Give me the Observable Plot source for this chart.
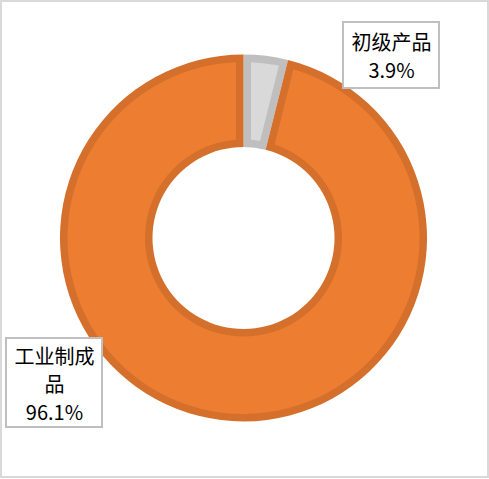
<!DOCTYPE html>
<html><head><meta charset="utf-8">
<script src="https://cdn.jsdelivr.net/npm/d3@7"></script>
<script src="https://cdn.jsdelivr.net/npm/@observablehq/plot@0.6"></script>
<style>body{margin:0;background:#fff;}</style>
</head><body><div id="chart"></div>
<script>
// Data
const categories = ["初级产品", "工业制成品"];
const shares = [3.9, 96.1];
const labelTexts = ["初级产品\n3.9%", "工业制成\n品\n96.1%"];
const fills = ["#d9d9d9", "#ed7d31"];
const borders = ["#bfbfbf", "#d4702b"];

// Layout
const W = 489, H = 479;
const cx = 243.5, cy = 238, rOut = 183.5, rIn = 91, bw = 7.5;
const boxes = [
  {x1: 343, x2: 439, y1: 22, y2: 88},
  {x1: 6, x2: 102, y1: 338, y2: 427}
];
const labelData = labelTexts.map((t, i) => ({
  text: t,
  x: (boxes[i].x1 + boxes[i].x2) / 2,
  y: (boxes[i].y1 + boxes[i].y2) / 2,
  ...boxes[i]
}));

const pieData = d3.pie().sort(null).value(d => d.v)(categories.map((c, i) => ({c, v: shares[i], i})));

function donut(index, scales, values, dims) {
  const g = d3.create("svg:g").attr("transform", `translate(${scales.x(cx)},${scales.y(cy)})`);
  const outer = d3.arc().innerRadius(rIn).outerRadius(rOut);
  const pr = 100;
  const inner = d3.arc().innerRadius(rIn + bw).outerRadius(rOut - bw).padRadius(pr).padAngle(2 * bw / pr);
  for (const a of pieData) {
    g.append("path").attr("d", outer(a)).attr("fill", borders[a.data.i]);
    g.append("path").attr("d", inner(a)).attr("fill", fills[a.data.i]);
  }
  return g.node();
}

const chart = Plot.plot({
  width: W, height: H,
  margin: 0,
  x: {type: "identity", axis: null},
  y: {type: "identity", axis: null},
  style: {fontFamily: "'Noto Sans CJK SC', sans-serif", background: "#fff"},
  marks: [
    Plot.rect([{x1: 1, x2: W - 1, y1: 1, y2: H - 2}], {x1: "x1", x2: "x2", y1: "y1", y2: "y2", fill: "none", stroke: "#d9d9d9", strokeWidth: 2}),
    donut,
    Plot.rect(labelData, {x1: "x1", x2: "x2", y1: "y1", y2: "y2", fill: "white", stroke: "#bfbfbf", strokeWidth: 2}),
    Plot.text(labelData, {x: "x", y: "y", text: "text", fontSize: 20, lineHeight: 1.4, fill: "#000", lineAnchor: "middle", textAnchor: "middle"})
  ]
});
document.getElementById("chart").appendChild(chart);
</script>
</body></html>
